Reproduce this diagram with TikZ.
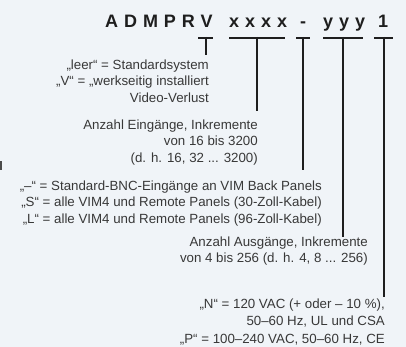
\documentclass[tikz,border=0pt]{standalone}
\usepackage{fontspec}
\setmainfont{Liberation Sans}
\newfontfamily\titlefont[LetterSpace=33]{Liberation Sans}
\definecolor{bgcol}{RGB}{240,244,248}
\definecolor{txtgray}{RGB}{56,56,56}
\definecolor{linecol}{RGB}{30,30,30}
\begin{document}
\begin{tikzpicture}[x=1pt,y=-1pt,
  lbl/.style={font=\fontsize{13.3}{15}\selectfont, text=txtgray, inner sep=0pt, anchor=base east},
  ttl/.style={font=\titlefont\bfseries\fontsize{18}{20}\selectfont, text=linecol, inner sep=0pt, anchor=base west},
  tee/.style={draw=linecol, line width=2pt}]
\useasboundingbox[fill=bgcol] (0,0) rectangle (406,347);
% title
\node[ttl] (tA) at (105,28) {ADMPRV};
\node[ttl] (tX) at (229,28) {xxxx};
\node[ttl] (tD) at (300,28) {-};
\node[ttl] (tY) at (323,28) {yyy};
\node[ttl, anchor=base] (tO) at (383,28) {\fontspec{Liberation Sans}[LetterSpace=0]\bfseries 1};
% tee coordinates
\coordinate (b1l) at (198,38); \coordinate (b1r) at (213,38); \coordinate (b1m) at (205.5,37); \coordinate (e1) at (205.5,55);
\coordinate (b2l) at (229,38); \coordinate (b2r) at (285,38); \coordinate (b2m) at (257,37); \coordinate (e2) at (257,111);
\coordinate (b3l) at (296,38); \coordinate (b3r) at (310,38); \coordinate (b3m) at (303,37); \coordinate (e3) at (303,170);
\coordinate (b4l) at (323,38); \coordinate (b4r) at (363,38); \coordinate (b4m) at (343,37); \coordinate (e4) at (343,237);
\coordinate (b5l) at (374,38); \coordinate (b5r) at (393,38); \coordinate (b5m) at (384,37); \coordinate (e5) at (384,297);
\foreach \i in {1,...,5}{
  \draw[tee] (b\i l) -- (b\i r);
  \draw[tee] (b\i m) -- (e\i);
}
% block 1
\node[lbl] (a1) at (209,69.5) {„leer“ = Standardsystem};
\node[lbl] (a2) at (209,86) {„V“ = „werkseitig installiert};
\node[lbl] (a3) at (209,102.5) {Video-Verlust};
% block 2
\node[lbl] (c1) at (258,129.5) {Anzahl Eingänge, Inkremente};
\node[lbl] (c2) at (258,146) {von 16 bis 3200};
\node[lbl] (c3) at (258,162.5) {(d. h. 16, 32 ... 3200)};
% block 3
\node[lbl] (d1) at (322,190.5) {„–“ = Standard-BNC-Eingänge an VIM Back Panels};
\node[lbl] (d2) at (322,207) {„S“ = alle VIM4 und Remote Panels (30-Zoll-Kabel)};
\node[lbl] (d3) at (322,223.5) {„L“ = alle VIM4 und Remote Panels (96-Zoll-Kabel)};
% block 4
\node[lbl] (f1) at (368,246) {Anzahl Ausgänge, Inkremente};
\node[lbl] (f2) at (368,262.5) {von 4 bis 256 (d. h. 4, 8 ... 256)};
% block 5
\node[lbl] (g1) at (385,308) {„N“ = 120 VAC (+ oder – 10 \%),};
\node[lbl] (g2) at (385,325) {50–60 Hz, UL und CSA};
\node[lbl] (g3) at (385,343) {„P“ = 100–240 VAC, 50–60 Hz, CE};
% edge fragment
\fill[linecol!80] (0,161.5) rectangle (1.7,170);
\end{tikzpicture}
\end{document}
